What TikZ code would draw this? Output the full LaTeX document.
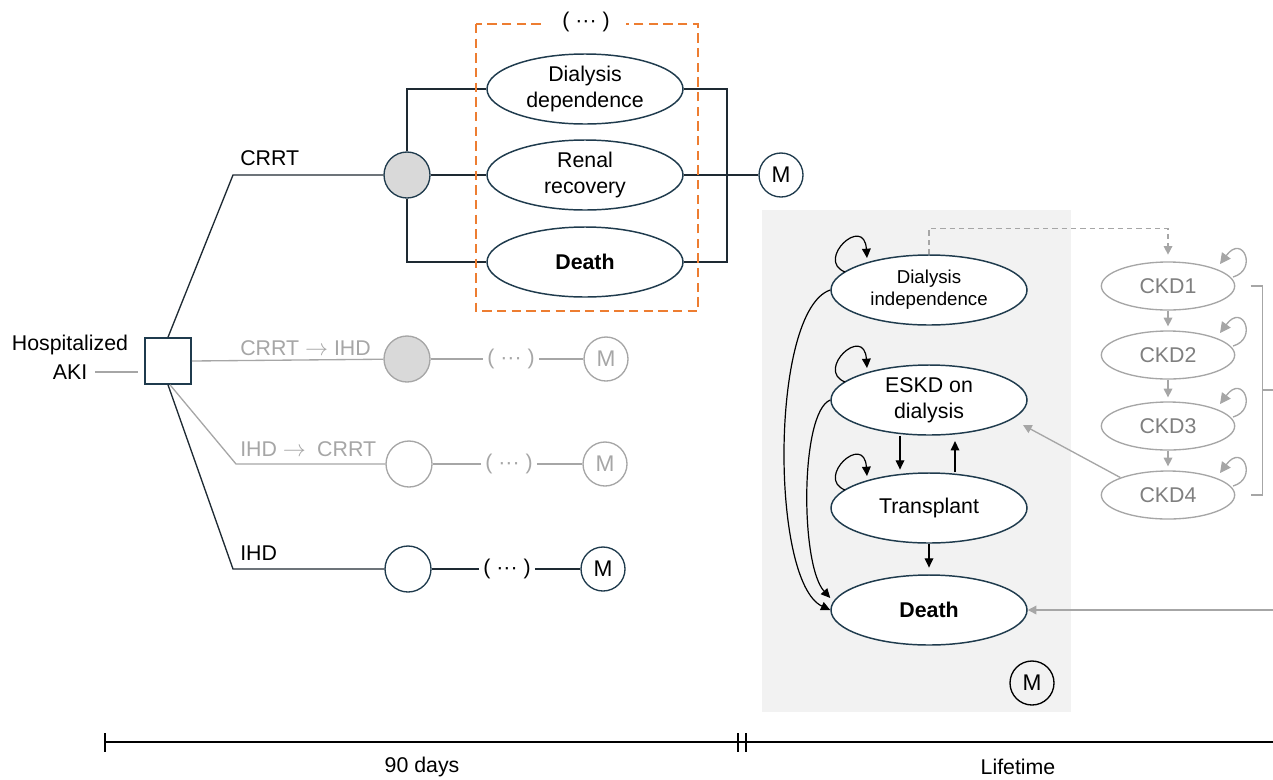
\documentclass[tikz,border=0pt]{standalone}
\usepackage{fontspec}
\setmainfont{Liberation Sans}
\usetikzlibrary{arrows.meta,shapes.geometric,calc}
\definecolor{navy}{HTML}{1F3B4D}
\definecolor{dk}{HTML}{1E2A33}
\definecolor{lgray}{HTML}{A6A6A6}
\definecolor{tgray}{HTML}{7F7F7F}
\definecolor{cgray}{HTML}{D9D9D9}
\definecolor{bggray}{HTML}{F2F2F2}
\definecolor{orng}{HTML}{ED7D31}
\begin{document}
\begin{tikzpicture}[x=0.75pt,y=-0.75pt,
  font=\fontsize{16}{19.5}\selectfont,
  state/.style={ellipse,draw=navy,line width=1.1pt,fill=white,minimum width=147pt,minimum height=52.5pt,inner sep=0pt,align=center},
  ckd/.style={ellipse,draw=lgray,line width=1pt,fill=white,minimum width=100pt,minimum height=36pt,inner sep=0pt,text=tgray},
  chance/.style={circle,draw=navy,line width=1pt,minimum size=34.5pt,inner sep=0pt},
  mnode/.style={circle,draw=navy,line width=1pt,minimum size=33pt,inner sep=0pt,font=\fontsize{17}{20}\selectfont},
  dots/.style={inner xsep=3pt,inner ysep=2pt},
  tree/.style={draw=dk,line width=1pt},
  gtree/.style={draw=lgray,line width=1pt},
  arr/.style={draw=black,line width=0.9pt,-{Triangle[length=7pt,width=6.5pt]}},
  garr/.style={draw=lgray,line width=1pt,-{Triangle[length=6.5pt,width=6.5pt]}},
  lbl/.style={anchor=base west,inner sep=0pt}
]
\useasboundingbox (0,0) rectangle (1273,779);

% background of lifetime model
\fill[bggray] (762,210) rectangle (1071,712);

% ---------- decision tree ----------
\node[draw=navy,line width=1.2pt,minimum size=34.5pt,inner sep=0pt] (sq) at (168,361) {};
\node[align=center,inner sep=0pt,font=\fontsize{16}{21.5}\selectfont] (hosp) at (70,357) {Hospitalized\\AKI};
\coordinate (aki1) at (95,372);
\coordinate (aki2) at (138,372);
\draw[gtree] (aki1) -- (aki2);

% CRRT branch
\coordinate (c1) at (233,175);
\node[chance,fill=cgray] (ch1) at (407,175) {};
\draw[tree] (sq.north) -- (c1) -- (ch1);
\node[lbl] (lcrrt) at (240,165) {CRRT};

\node[state] (dd) at (585,89) {Dialysis\\dependence};
\node[state] (rr) at (585,175) {Renal\\recovery};
\node[state] (d1) at (585,262) {\textbf{Death}};
\draw[tree] (ch1.north) |- (dd.west);
\draw[tree] (ch1) -- (rr);
\draw[tree] (ch1.south) |- (d1.west);
\coordinate (rb) at (727,175);
\draw[tree] (dd.east) -| (rb) |- (d1.east);
\node[mnode] (m1) at (781,175) {M};
\draw[tree] (rr.east) -- (m1);

\draw[orng,line width=1.5pt,dash pattern=on 7pt off 4pt] (476,24) rectangle (698,311);
\node[fill=white,inner xsep=12pt,inner ysep=2pt] (dtop) at (586,22) {( ··· )};

% CRRT -> IHD branch
\node[chance,draw=lgray,fill=cgray] (ch2) at (407,359) {};
\draw[gtree] (sq.east) -- (ch2);
\node[lbl,text=lgray] (l2) at (240,355) {CRRT $\rightarrow$ IHD};
\node[dots,text=lgray] (dt2) at (511,359) {( ··· )};
\node[mnode,draw=lgray,text=lgray] (m2) at (606,359) {M};
\draw[gtree] (ch2) -- (dt2);
\draw[gtree] (dt2) -- (m2);

% IHD -> CRRT branch
\coordinate (c3) at (236,464);
\node[chance,draw=lgray] (ch3) at (409,464) {};
\draw[gtree] ([xshift=1.5pt]sq.south) -- (c3) -- (ch3);
\node[lbl,text=lgray] (l3) at (240,456) {IHD $\rightarrow$\hspace{4pt} CRRT};
\node[dots,text=lgray] (dt3) at (509,464) {( ··· )};
\node[mnode,draw=lgray,text=lgray] (m3) at (605,464) {M};
\draw[gtree] (ch3) -- (dt3);
\draw[gtree] (dt3) -- (m3);

% IHD branch
\coordinate (c4) at (233,569);
\node[chance] (ch4) at (408,569) {};
\draw[tree] (sq.south) -- (c4) -- (ch4);
\node[lbl] (l4) at (240,560) {IHD};
\node[dots] (dt4) at (507,569) {( ··· )};
\node[mnode] (m4) at (603,569) {M};
\draw[tree] (ch4) -- (dt4);
\draw[tree] (dt4) -- (m4);

% ---------- lifetime Markov model ----------
\node[state,font=\fontsize{14}{16.5}\selectfont] (di) at (929,290) {Dialysis\\independence};
\node[state] (eskd) at (929,400) {ESKD on\\dialysis};
\node[state] (tx) at (929,508) {Transplant};
\node[state] (d2) at (929,610) {\textbf{Death}};
\node[mnode,draw=black] (m5) at (1032,683) {M};

% self loops
\foreach \s in {di,eskd,tx}{
  \draw[arr] ($(\s.center)+(-84,-18)$) .. controls +(-30,-12) and +(-3,-44) .. ($(\s.center)+(-62,-32)$);
}
% transitions
\draw[arr,shorten >=2pt] ([xshift=-21.75pt]eskd.south) -- ([xshift=-21.75pt]tx.north);
\draw[arr,shorten >=4pt] ([xshift=19.5pt]tx.north) -- ([xshift=19.5pt]eskd.south);
\draw[arr,shorten >=5pt] (tx.south) -- (d2.north);
\draw[arr] (di.west) .. controls (770,310) and (770,582) .. (d2.west);
\draw[arr] (eskd.west) .. controls (800,412) and (800,565) .. ([yshift=9pt]d2.west);

% CKD states
\node[ckd] (ckd1) at (1168,286) {CKD1};
\node[ckd] (ckd2) at (1168,355) {CKD2};
\node[ckd] (ckd3) at (1168,426) {CKD3};
\node[ckd] (ckd4) at (1168,495) {CKD4};
\draw[garr,shorten >=3pt] (ckd1) -- (ckd2);
\draw[garr,shorten >=3pt] (ckd2) -- (ckd3);
\draw[garr,shorten >=3pt] (ckd3) -- (ckd4);
\foreach \s in {ckd1,ckd2,ckd3,ckd4}{
  \draw[garr,-{Triangle[length=8pt,width=8pt]}] ($(\s.center)+(65,-9)$) .. controls +(25,-7) and +(23,-31) .. ($(\s.center)+(52,-22)$);
}
\draw[garr,dash pattern=on 4pt off 3pt,shorten >=5pt] (di.north) -- ++(0,-26) -| (ckd1.north);

% bracket
\coordinate (b1) at ([xshift=11.5pt]ckd1.east);
\coordinate (b4) at ([xshift=11.5pt]ckd4.east);
\coordinate (bm) at (1262,390);
\coordinate (be) at (1273,390);
\draw[gtree] (b1) -- ++(12,0) |- (b4);
\draw[gtree] (bm) -- (be);

% incoming gray arrows
\coordinate (eskdin) at (1023,425);
\draw[garr] (ckd4.north west) -- (eskdin);
\coordinate (redge) at (1273,610);
\draw[garr] (redge) -- (d2.east);

% ---------- timeline ----------
\coordinate (t0) at (105,742);
\coordinate (t1) at (738,742);
\coordinate (t2) at (746,742);
\coordinate (t3) at (1273,742);
\draw[line width=1pt] (t0) -- (t3);
\foreach \xx in {105,738,746}{ \draw[line width=1pt] (\xx,733) -- (\xx,752); }
\node (n90) at (422,767) {90 days};
\node (nlife) at (1018,767) {Lifetime};
\end{tikzpicture}
\end{document}
